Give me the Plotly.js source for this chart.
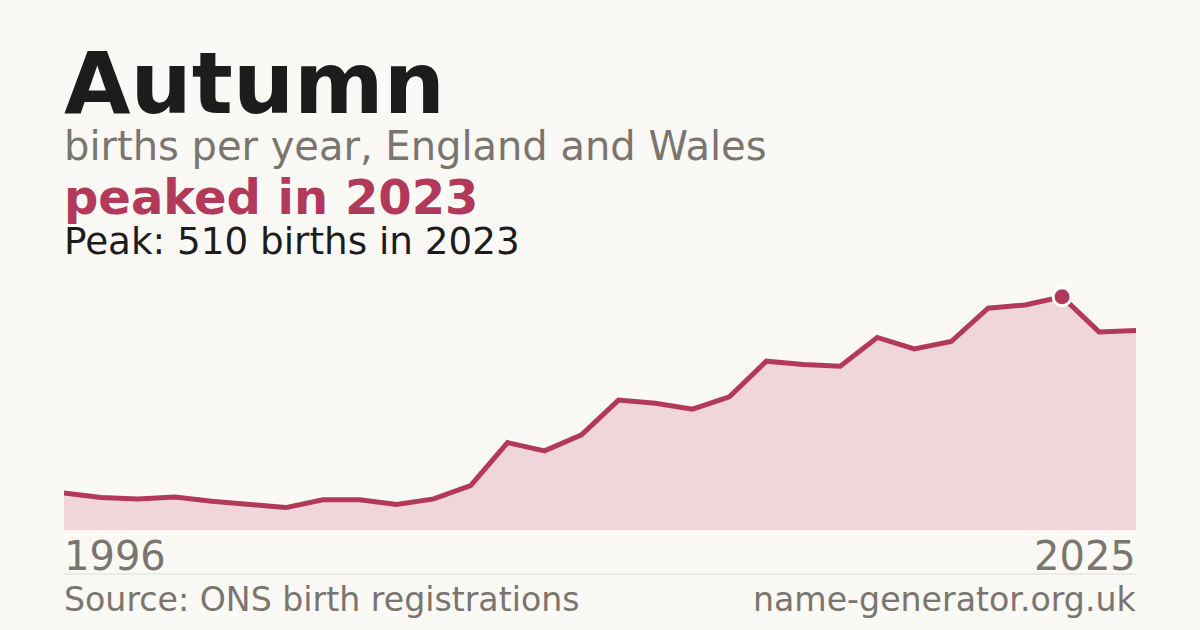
<!DOCTYPE html>
<html>
<head>
<meta charset="utf-8">
<script src="https://cdn.plot.ly/plotly-3.0.1.min.js"></script>
<style>
  html, body { margin: 0; padding: 0; background: #faf9f5; }
  #chart { width: 1200px; height: 630px; }
</style>
</head>
<body>
<div id="chart"></div>
<script>
// Births per year for the name
var years = [1996, 1997, 1998, 1999, 2000, 2001, 2002, 2003, 2004, 2005,
             2006, 2007, 2008, 2009, 2010, 2011, 2012, 2013, 2014, 2015,
             2016, 2017, 2018, 2019, 2020, 2021, 2022, 2023, 2024, 2025];
var births = [81, 71, 68, 72, 63, 57, 49, 66, 66, 56,
              68, 97, 191, 173, 208, 284, 277, 264, 291, 369,
              362, 358, 421, 396, 412, 485, 492, 510, 433, 436];

var nameTitle = "Autumn";
var subtitle = "births per year, England and Wales";
var headline = "peaked in 2023";
var sourceText = "Source: ONS birth registrations";
var siteText = "name-generator.org.uk";

// Pic du graphe
var peakIdx = births.indexOf(Math.max.apply(null, births));
var peakYear = years[peakIdx];
var peakVal = births[peakIdx];

var W = 1200, H = 630;
var crimson = "#b3395a";
var grey = "#7a756e";
var font = "DejaVu Sans";

// pixel -> paper
function px(x) { return x / W; }
function py(y) { return (H - y) / H; }

var area = {
    x: years,
    y: births,
    type: "scatter",
    mode: "lines",
    fill: "tozeroy",
    fillcolor: "#f0d5da",
    line: { color: crimson, width: 5 },
    hoverinfo: "skip"
};

var peak = {
    x: [peakYear],
    y: [peakVal],
    type: "scatter",
    mode: "markers",
    marker: { color: crimson, size: 18, line: { color: "#ffffff", width: 3 } },
    cliponaxis: false,
    hoverinfo: "skip"
};

function label(text, x, y, size, color, bold, anchor) {
    return {
        text: bold ? "<b>" + text + "</b>" : text,
        xref: "paper", yref: "paper",
        x: px(x), y: py(y),
        xanchor: anchor || "left", yanchor: "middle",
        showarrow: false,
        borderpad: 0,
        font: { family: font, size: size, color: color }
    };
}

var layout = {
    width: W,
    height: H,
    margin: { l: 0, r: 0, t: 0, b: 0 },
    paper_bgcolor: "#faf9f5",
    plot_bgcolor: "rgba(0,0,0,0)",
    showlegend: false,
    xaxis: {
        domain: [px(64), px(1136)],
        range: [years[0], years[years.length - 1]],
        visible: false,
        fixedrange: true
    },
    yaxis: {
        domain: [py(530), py(280)],
        range: [0, peakVal * 250 / 233.3],
        visible: false,
        fixedrange: true
    },
    shapes: [{
        type: "line", xref: "paper", yref: "paper",
        x0: px(64), x1: px(1136), y0: py(574), y1: py(574),
        line: { color: "#dedbd5", width: 1 }
    }],
    annotations: [
        label(nameTitle, 63, 83, 86, "#1c1c1c", true),
        label(subtitle, 63, 146, 40, grey, false),
        label(headline, 63, 197, 48, crimson, true),
        label("Peak: " + peakVal + " births in " + peakYear, 63, 241, 37.3, "#1c1c1c", false),
        label(String(years[0]), 63, 556, 40, grey, false),
        label(String(years[years.length - 1]), 1137, 556, 40, grey, false, "right"),
        label(sourceText, 63, 599, 33.2, grey, false),
        label(siteText, 1137, 599, 33.2, grey, false, "right")
    ]
};

Plotly.newPlot("chart", [area, peak], layout, { staticPlot: true, displayModeBar: false });
</script>
</body>
</html>
